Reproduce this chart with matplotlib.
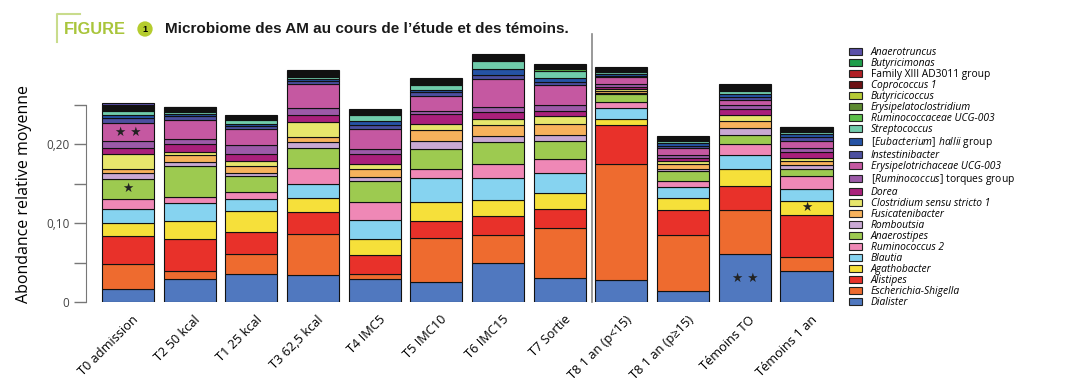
import numpy as np
import matplotlib.pyplot as plt
import matplotlib.transforms as mtrans
from matplotlib.patches import Patch
from matplotlib.lines import Line2D

plt.rcParams['font.family'] = ['Open Sans', 'DejaVu Sans']
plt.rcParams['mathtext.fontset'] = 'custom'
plt.rcParams['mathtext.it'] = 'Open Sans:italic'
plt.rcParams['mathtext.rm'] = 'Open Sans'

groups = ['T0 admission', 'T2 50 kcal', 'T1 25 kcal', 'T3 62,5 kcal', 'T4 IMC5', 'T5 IMC10',
          'T6 IMC15', 'T7 Sortie', 'T8 1 an (p<15)', 'T8 1 an (p≥15)', 'Témoins TO', 'Témoins 1 an']

# relative abundance per genus, bottom of the stack first
dialister       = [0.017, 0.029, 0.0355, 0.034, 0.0295, 0.0248, 0.0496, 0.0308, 0.0282, 0.0145, 0.0603, 0.0393]
escherichia     = [0.031, 0.010, 0.026, 0.0527, 0.006, 0.0568, 0.036, 0.0628, 0.1466, 0.070, 0.0567, 0.0175]
alistipes       = [0.036, 0.041, 0.027, 0.0278, 0.024, 0.0218, 0.0235, 0.025, 0.0496, 0.032, 0.0296, 0.0535]
agathobacter    = [0.016, 0.0234, 0.027, 0.018, 0.021, 0.0236, 0.0206, 0.020, 0.008, 0.016, 0.0218, 0.0183]
blautia         = [0.0175, 0.0226, 0.015, 0.0175, 0.0235, 0.030, 0.0273, 0.025, 0.0137, 0.014, 0.0176, 0.0146]
ruminococcus2   = [0.0135, 0.007, 0.0085, 0.0197, 0.0227, 0.0116, 0.0187, 0.0176, 0.0073, 0.007, 0.0144, 0.0167]
anaerostipes    = [0.025, 0.040, 0.021, 0.026, 0.0265, 0.026, 0.0278, 0.0236, 0.010, 0.0132, 0.0116, 0.009]
romboutsia      = [0.0077, 0.0048, 0.0043, 0.0069, 0.006, 0.0093, 0.0072, 0.007, 0.002, 0.002, 0.0094, 0.005]
fusicatenibacter = [0.0055, 0.0085, 0.0077, 0.0068, 0.0094, 0.014, 0.0138, 0.014, 0.003, 0.007, 0.008, 0.005]
clostridium     = [0.019, 0.0043, 0.0064, 0.0196, 0.0068, 0.008, 0.0077, 0.010, 0.002, 0.003, 0.0077, 0.004]
dorea           = [0.007, 0.0098, 0.0094, 0.0086, 0.0128, 0.0128, 0.009, 0.007, 0.003, 0.004, 0.0077, 0.007]
torques         = [0.009, 0.0064, 0.011, 0.0082, 0.0056, 0.0043, 0.006, 0.007, 0.0035, 0.004, 0.0055, 0.006]
erysipelotri    = [0.0225, 0.024, 0.021, 0.031, 0.026, 0.019, 0.0355, 0.025, 0.0085, 0.0085, 0.0056, 0.0087]
instestinibacter = [0.007, 0.0047, 0.0036, 0.0034, 0.005, 0.0039, 0.0059, 0.004, 0.002, 0.003, 0.0039, 0.0047]
hallii          = [0.004, 0.0025, 0.003, 0.0026, 0.005, 0.0029, 0.0077, 0.0056, 0.002, 0.003, 0.0042, 0.0034]
streptococcus   = [0.0044, 0.003, 0.0044, 0.0033, 0.0078, 0.0064, 0.0094, 0.0094, 0.002, 0.003, 0.0043, 0.0035]
ucg003          = [0.0015, 0.0010, 0.0010, 0.0012, 0.0011, 0.0014, 0.0013, 0.0013, 0.0011, 0.0010, 0.0013, 0.0010]
erysipelatoclo  = [0.0012, 0.0010, 0.0009, 0.0011, 0.0010, 0.0013, 0.0012, 0.0012, 0.0010, 0.0009, 0.0012, 0.0009]
butyricicoccus  = [0.0015, 0.0010, 0.0010, 0.0011, 0.0010, 0.0013, 0.0013, 0.0013, 0.0010, 0.0009, 0.0012, 0.0009]
coprococcus     = [0.0012, 0.0010, 0.0010, 0.0011, 0.0010, 0.0013, 0.0012, 0.0012, 0.0010, 0.0009, 0.0012, 0.0009]
family13        = [0.0015, 0.0010, 0.0010, 0.0012, 0.0011, 0.0014, 0.0013, 0.0013, 0.0011, 0.0010, 0.0013, 0.0010]
butyricimonas   = [0.0015, 0.0010, 0.0009, 0.0011, 0.0010, 0.0013, 0.0012, 0.0012, 0.0010, 0.0009, 0.0012, 0.0009]
anaerotruncus   = [0.0015, 0.0010, 0.0010, 0.0011, 0.0011, 0.0014, 0.0013, 0.0013, 0.0011, 0.0009, 0.0013, 0.0009]

# (label, values, colour, italic) bottom -> top
taxa = [
    ('Dialister', dialister, '#5078bf', True),
    ('Escherichia-Shigella', escherichia, '#ee6b2f', True),
    ('Alistipes', alistipes, '#e8312a', True),
    ('Agathobacter', agathobacter, '#f6e03a', True),
    ('Blautia', blautia, '#86d3f0', True),
    ('Ruminococcus 2', ruminococcus2, '#ef88b6', True),
    ('Anaerostipes', anaerostipes, '#9dca50', True),
    ('Romboutsia', romboutsia, '#c9a8d3', True),
    ('Fusicatenibacter', fusicatenibacter, '#f7b25c', True),
    ('Clostridium sensu stricto 1', clostridium, '#e7e66c', True),
    ('Dorea', dorea, '#a9207b', True),
    (r'$\it{[Ruminococcus]}$ torques group', torques, '#9c5aa8', False),
    ('Erysipelotrichaceae UCG-003', erysipelotri, '#c558a1', True),
    ('Instestinibacter', instestinibacter, '#4c4f9f', True),
    (r'$\it{[Eubacterium]\ hallii}$ group', hallii, '#2553a5', False),
    ('Streptococcus', streptococcus, '#70ccab', True),
    ('Ruminococcaceae UCG-003', ucg003, '#5cbf4b', True),
    ('Erysipelatoclostridium', erysipelatoclo, '#5d8a30', True),
    ('Butyricicoccus', butyricicoccus, '#b6ca35', True),
    ('Coprococcus 1', coprococcus, '#6c1013', True),
    ('Family XIII AD3011 group', family13, '#b01f25', False),
    ('Butyricimonas', butyricimonas, '#1f9e4b', True),
    ('Anaerotruncus', anaerotruncus, '#5b50a8', True),
]

fig = plt.figure(figsize=(10.68, 3.82), dpi=100)
ax = fig.add_axes([0.0805, 0.2094, 0.7035, 0.6807])

x = np.arange(len(groups))
bottom = np.zeros(len(groups))
bottoms = {}
for name, vals, col, it in taxa:
    vals = np.array(vals)
    ax.bar(x, vals, bottom=bottom, width=0.845, color=col, edgecolor='#111111', linewidth=0.8)
    bottoms[name] = (bottom.copy(), vals)
    bottom = bottom + vals

# significance stars
def star(name, i, txt):
    b, v = bottoms[name]
    ax.text(x[i], b[i] + v[i] / 2, txt, ha='center', va='center', fontsize=9,
            color='#222222', family='DejaVu Sans')

star('Erysipelotrichaceae UCG-003', 0, '★ ★')
star('Anaerostipes', 0, '★')
star('Dialister', 10, '★ ★')
star('Agathobacter', 11, '★')

ax.set_xlim(-0.68, 11.5)
ax.set_ylim(0, 0.33)
ax.set_yticks([0, 0.10, 0.20])
ax.set_yticklabels(['0', '0,10', '0,20'], fontsize=8.5, color='#444444')
ax.set_yticks([0.05, 0.15, 0.25], minor=True)
ax.tick_params(axis='y', which='both', length=9, width=1, color='#777777', pad=3)
ax.spines['left'].set_bounds(0, 0.25)
ax.spines['left'].set_color('#777777')
for s in ['top', 'right', 'bottom']:
    ax.spines[s].set_visible(False)
ax.set_xticks(x)
ax.set_xticklabels(groups, rotation=45, ha='right', rotation_mode='anchor', fontsize=9.2)
ax.tick_params(axis='x', length=0, pad=8)
shift = mtrans.ScaledTranslation(4 / 100, 0, fig.dpi_scale_trans)
for lab in ax.get_xticklabels():
    lab.set_transform(lab.get_transform() + shift)
ax.set_ylabel('Abondance relative moyenne', fontsize=11.5)
ax.yaxis.set_label_coords(-0.072, 0.415)

# separator between study and controls
ax.axvline(7.53, ymin=0, ymax=1.03, color='#888888', linewidth=1.2, clip_on=False)

# legend, top -> bottom
handles = []
for name, vals, col, it in reversed(taxa):
    handles.append(Patch(facecolor=col, edgecolor='#222222', linewidth=0.8, label=name))
leg = fig.legend(handles=handles, loc='upper left', bbox_to_anchor=(0.79, 0.89),
                 frameon=False, fontsize=7.4, handlelength=1.25, handleheight=0.65,
                 labelspacing=0.0, handletextpad=0.9, borderpad=0)
for t, (name, vals, col, it) in zip(leg.get_texts(), reversed(taxa)):
    if it:
        t.set_style('italic')

# title block
fig.add_artist(Line2D([57 / 1068, 57 / 1068, 80 / 1068], [1 - 42 / 382, 1 - 14 / 382, 1 - 14 / 382],
                      color='#c9dc8c', linewidth=1.5))
fig.text(64 / 1068, 1 - 29 / 382, 'FIGURE', color='#a9c53b', fontsize=11.8, fontweight='bold',
         family='Liberation Sans', va='center')
fig.text(145 / 1068, 1 - 29 / 382, '1', fontsize=6.5, fontweight='bold', ha='center', va='center',
         family='Liberation Sans',
         bbox=dict(boxstyle='circle,pad=0.35', fc='#b5cc2e', ec='none'))
fig.text(165 / 1068, 1 - 29 / 382, 'Microbiome des AM au cours de l\u2019étude et des témoins.',
         fontsize=11, fontweight='bold', family='Liberation Sans', va='center', color='#1a1a1a')

fig.savefig('out.png', dpi=100)
